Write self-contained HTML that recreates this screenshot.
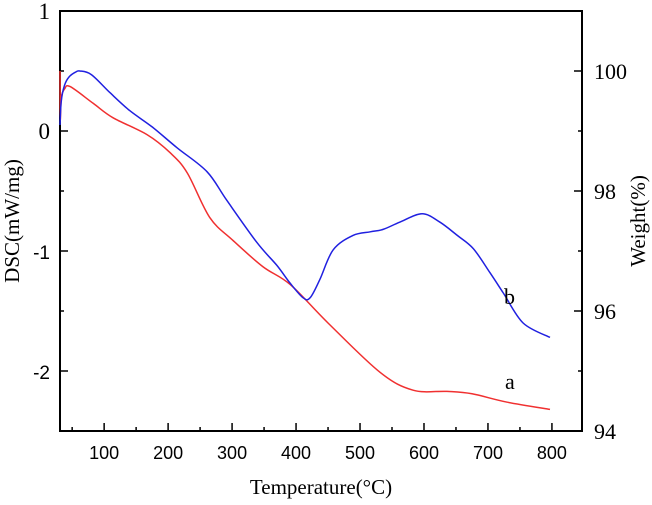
<!DOCTYPE html>
<html><head><meta charset="utf-8"><style>
body{margin:0;background:#fff}
svg text{font-family:"Liberation Serif",serif;fill:#000}
</style></head><body>
<svg width="652" height="500">
<g id="axes"></g><g id="series"></g>
</svg>
<script>
const temps = [31,33,38,45,55,62,80,109,140,176,214,261,292,339,370,391,411,422,437,458,489,516,536,562,597,625,652,677,703,724,755,797];
const blueDSC = [0.05,0.25,0.38,0.45,0.49,0.5,0.47,0.32,0.17,0.03,-0.14,-0.34,-0.58,-0.93,-1.12,-1.27,-1.39,-1.39,-1.24,-0.99,-0.87,-0.84,-0.82,-0.76,-0.69,-0.76,-0.87,-0.98,-1.18,-1.35,-1.6,-1.72];
const redTemps = [31,31.5,33,38,47,83,114,167,203,230,265,301,348,391,450,531,583,636,675,730,797];
const redDSC = [0.5,0.1,0.28,0.35,0.37,0.23,0.11,-0.03,-0.18,-0.35,-0.72,-0.91,-1.13,-1.28,-1.6,-2.01,-2.16,-2.17,-2.19,-2.26,-2.32];
const xTicks = [100,200,300,400,500,600,700,800];
const yTicks = [1,0,-1,-2];
const wTicks = [100,98,96,94];
const X0=60,X1=582,Y0=11,Y1=431;
const xs=t=>X0+(t-31)/(847-31)*(X1-X0);
const ys=v=>Y0+(1-v)/3.5*(Y1-Y0);
const ws=w=>Y0+(101-w)/7*(Y1-Y0);
const NS="http://www.w3.org/2000/svg";
const ax=document.getElementById('axes'), se=document.getElementById('series');
function mk(p,tag,at,txt){const e=document.createElementNS(NS,tag);for(const k in at)e.setAttribute(k,at[k]);if(txt!==undefined)e.textContent=txt;p.appendChild(e);return e;}
let f=mk(ax,'rect',{x:X0,y:Y0,width:X1-X0,height:Y1-Y0,fill:'none',stroke:'#000','stroke-width':2});


for(let t=50;t<=800;t+=50){const x=xs(t);const l=mk(ax,'line',{x1:x,x2:x,y1:Y1,y2:Y1-(t%100?4:8),stroke:'#000','stroke-width':1.5});

}
xTicks.forEach(t=>{const e=mk(ax,'text',{x:xs(t),y:Y1+28,'text-anchor':'middle','font-size':18,style:'font-family:"Liberation Sans",sans-serif'},t);

});
for(let v=1;v>=-2.5;v-=0.5){const y=ys(v);const l=mk(ax,'line',{x1:X0,x2:X0+(Number.isInteger(v)?8:4),y1:y,y2:y,stroke:'#000','stroke-width':1.5});

}
yTicks.forEach(v=>{const e=mk(ax,'text',{x:X0-10,y:ys(v)+8,'text-anchor':'end','font-size':v<0?19:23,style:v<0?'font-family:"Liberation Sans",sans-serif':''},v);

});
for(let w=101;w>=94;w-=1){const y=ws(w);const l=mk(ax,'line',{x1:X1,x2:X1-(w%2?4:8),y1:y,y2:y,stroke:'#000','stroke-width':1.5});

}
wTicks.forEach(w=>{const e=mk(ax,'text',{x:X1+12,y:ws(w)+8,'font-size':22},w);

});
let t1=mk(ax,'text',{x:321,y:494,'text-anchor':'middle','font-size':21},'Temperature(°C)');


let t2=mk(ax,'text',{x:0,y:0,'text-anchor':'middle','font-size':21,transform:'translate(19,221) rotate(-90)'},'DSC(mW/mg)');


let t3=mk(ax,'text',{x:0,y:0,'text-anchor':'middle','font-size':21,transform:'translate(645,221) rotate(-90)'},'Weight(%)');


function line(T,V,c){
  const P=T.map((t,i)=>[xs(t),ys(V[i])]);
  let d='M'+P[0][0].toFixed(1)+','+P[0][1].toFixed(1);
  for(let i=0;i<P.length-1;i++){
    const p0=P[Math.max(0,i-1)],p1=P[i],p2=P[i+1],p3=P[Math.min(P.length-1,i+2)];
    const c1=[p1[0]+(p2[0]-p0[0])/6,p1[1]+(p2[1]-p0[1])/6],c2=[p2[0]-(p3[0]-p1[0])/6,p2[1]-(p3[1]-p1[1])/6];
    d+='C'+c1.map(n=>n.toFixed(1)).join(',')+' '+c2.map(n=>n.toFixed(1)).join(',')+' '+p2.map(n=>n.toFixed(1)).join(',');
  }
  return mk(se,'path',{d:d,fill:'none',stroke:c,'stroke-width':1.5,'stroke-linejoin':'round'});}
let pa=line(redTemps,redDSC,'#f03030');


let pb=line(temps,blueDSC,'#2020e0');


let la=mk(se,'text',{x:505,y:389,'font-size':22},'a');


let lb=mk(se,'text',{x:504,y:304,'font-size':22},'b');


</script>
</body></html>
